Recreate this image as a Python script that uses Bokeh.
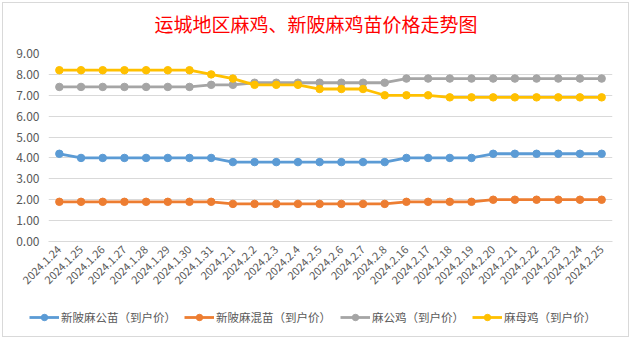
from bokeh.plotting import figure
from bokeh.models import (FactorRange, Range1d, FixedTicker, NumeralTickFormatter,
                          Legend, LegendItem, Label, ColumnDataSource)
from bokeh.layouts import column
from bokeh.embed import file_html
from bokeh.resources import INLINE
import math

dates = ["2024.1.24", "2024.1.25", "2024.1.26", "2024.1.27", "2024.1.28", "2024.1.29",
         "2024.1.30", "2024.1.31", "2024.2.1", "2024.2.2", "2024.2.3", "2024.2.4",
         "2024.2.5", "2024.2.6", "2024.2.7", "2024.2.8", "2024.2.16", "2024.2.17",
         "2024.2.18", "2024.2.19", "2024.2.20", "2024.2.21", "2024.2.22", "2024.2.23",
         "2024.2.24", "2024.2.25"]

gongmiao = [4.2, 4.0, 4.0, 4.0, 4.0, 4.0, 4.0, 4.0, 3.8, 3.8, 3.8, 3.8, 3.8, 3.8, 3.8, 3.8,
            4.0, 4.0, 4.0, 4.0, 4.2, 4.2, 4.2, 4.2, 4.2, 4.2]
hunmiao = [1.9, 1.9, 1.9, 1.9, 1.9, 1.9, 1.9, 1.9, 1.8, 1.8, 1.8, 1.8, 1.8, 1.8, 1.8, 1.8,
           1.9, 1.9, 1.9, 1.9, 2.0, 2.0, 2.0, 2.0, 2.0, 2.0]
gongji = [7.4, 7.4, 7.4, 7.4, 7.4, 7.4, 7.4, 7.5, 7.5, 7.6, 7.6, 7.6, 7.6, 7.6, 7.6, 7.6,
          7.8, 7.8, 7.8, 7.8, 7.8, 7.8, 7.8, 7.8, 7.8, 7.8]
muji = [8.2, 8.2, 8.2, 8.2, 8.2, 8.2, 8.2, 8.0, 7.8, 7.5, 7.5, 7.5, 7.3, 7.3, 7.3, 7.0,
        7.0, 7.0, 6.9, 6.9, 6.9, 6.9, 6.9, 6.9, 6.9, 6.9]

series_names = ["新陂麻公苗（到户价）", "新陂麻混苗（到户价）", "麻公鸡（到户价）", "麻母鸡（到户价）"]
series_values = [gongmiao, hunmiao, gongji, muji]
colors = ["#5B9BD5", "#ED7D31", "#A5A5A5", "#FFC000"]
y_ticks = [0, 1, 2, 3, 4, 5, 6, 7, 8, 9]
title_text = "运城地区麻鸡、新陂麻鸡苗价格走势图"

FONT = "Noto Sans CJK SC"
GREY = "#595959"
LW = 2.8
MS = 7.5
W = 625


def strip(height, x_range, y_range):
    f = figure(width=W, height=height, x_range=x_range, y_range=y_range,
               output_backend="svg", toolbar_location=None, min_border=0,
               min_border_left=0, min_border_right=0, min_border_top=0, min_border_bottom=0,
               x_axis_location=None, y_axis_location=None, frame_align=False)
    f.grid.grid_line_color = None
    f.outline_line_color = None
    f.background_fill_color = "white"
    f.border_fill_color = "white"
    return f


# title strip
tf = strip(40, Range1d(0, 1), Range1d(0, 1))
tf.add_layout(Label(x=0.5, y=0.5, text=title_text, text_align="center", text_baseline="middle",
                    text_color="#FF0000", text_font=FONT, text_font_size="19px"))

# main chart
xr = FactorRange(*dates, range_padding=0)
p = figure(frame_width=564, frame_height=188, x_range=xr,
           y_range=Range1d(0, 9), output_backend="svg", toolbar_location=None,
           min_border_left=45, min_border_right=16, min_border_top=10, min_border_bottom=58,
           frame_align=False)
p.outline_line_color = None
p.background_fill_color = "white"
p.border_fill_color = "white"

p.xgrid.grid_line_color = None
p.ygrid.grid_line_color = "#D9D9D9"
p.ygrid.grid_line_width = 1

p.yaxis.ticker = FixedTicker(ticks=y_ticks)
p.yaxis.formatter = NumeralTickFormatter(format="0.00")
p.yaxis.axis_line_color = None
p.yaxis.major_tick_line_color = None
p.yaxis.minor_tick_line_color = None
p.yaxis.major_tick_in = 0
p.yaxis.major_tick_out = 0
p.yaxis.major_label_standoff = 9
p.yaxis.major_label_text_color = GREY
p.yaxis.major_label_text_font = FONT
p.yaxis.major_label_text_font_size = "12px"

p.xaxis.axis_line_color = "#D9D9D9"
p.xaxis.major_tick_line_color = None
p.xaxis.minor_tick_line_color = None
p.xaxis.major_tick_in = 0
p.xaxis.major_tick_out = 0
p.xaxis.major_label_orientation = math.pi / 4
p.xaxis.major_label_standoff = 6
p.xaxis.major_label_text_color = GREY
p.xaxis.major_label_text_font = FONT
p.xaxis.major_label_text_font_size = "11px"

# legend strip: same data drawn far outside its visible y-range, only the legend shows
lf = strip(37, FactorRange(*dates, range_padding=0), Range1d(100, 101))

legend_x = [26, 181, 337, 469]
for name, vals, c, lx in zip(series_names, series_values, colors, legend_x):
    src = ColumnDataSource(data=dict(x=dates, y=vals))
    p.line("x", "y", source=src, line_color=c, line_width=LW)
    p.scatter("x", "y", source=src, marker="circle", size=MS, fill_color=c, line_color=c)
    l1 = lf.line("x", "y", source=src, line_color=c, line_width=LW)
    l2 = lf.scatter("x", "y", source=src, marker="circle", size=MS, fill_color=c, line_color=c)
    lg = Legend(items=[LegendItem(label=name, renderers=[l1, l2])], location=(lx, 11),
                label_text_font=FONT, label_text_font_size="11.5px", label_text_color=GREY,
                glyph_width=30, glyph_height=16, label_standoff=2, label_height=16,
                border_line_color=None, background_fill_alpha=0, padding=0, margin=0)
    lf.add_layout(lg, "center")

layout = column(tf, p, lf, spacing=0,
                styles={"border": "1px solid #D9D9D9", "margin-left": "2px", "margin-top": "2px"})

open("out.html", "w").write(file_html(layout, INLINE))
